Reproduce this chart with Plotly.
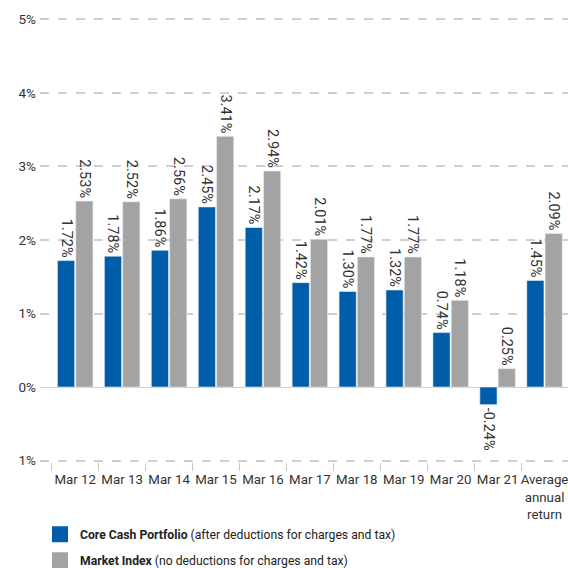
import plotly.graph_objects as go

categories = ["Mar 12", "Mar 13", "Mar 14", "Mar 15", "Mar 16", "Mar 17",
              "Mar 18", "Mar 19", "Mar 20", "Mar 21", "Average<br>annual<br>return"]
core_cash = [1.72, 1.78, 1.86, 2.45, 2.17, 1.42, 1.30, 1.32, 0.74, -0.24, 1.45]
market_index = [2.53, 2.52, 2.56, 3.41, 2.94, 2.01, 1.77, 1.77, 1.18, 0.25, 2.09]
tick_vals = [5, 4, 3, 2, 1, 0, -1]
tick_text = ["5%", "4%", "3%", "2%", "1%", "0%", "1%"]

BLUE = "#005DAA"
GREY = "#A3A3A3"
FONT = "Roboto"

fig = go.Figure()
fig.add_bar(x=categories, y=core_cash, marker=dict(color=BLUE, line=dict(color="#e8eef5", width=0.6)),
            text=[f"{v:.2f}%" for v in core_cash], textposition="outside", textangle=90,
            constraintext="none",
            textfont=dict(family=FONT, size=14.5, color="#333333"), cliponaxis=False,
            showlegend=False, hoverinfo="skip")
fig.add_bar(x=categories, y=market_index, marker=dict(color=GREY, line=dict(color="#eeeeee", width=0.6)),
            text=[f"{v:.2f}%" for v in market_index], textposition="outside", textangle=90,
            constraintext="none",
            textfont=dict(family=FONT, size=14.5, color="#333333"), cliponaxis=False,
            showlegend=False, hoverinfo="skip")

# legend entries
fig.add_scatter(x=[categories[0]], y=[None], mode="markers", legendgroup="core",
                marker=dict(symbol="square", size=18, color=BLUE),
                name="<b>Core Cash Portfolio</b> (after deductions for charges and tax)")
fig.add_scatter(x=[categories[0]], y=[None], mode="markers", legendgroup="market",
                marker=dict(symbol="square", size=18, color=GREY),
                name="<b>Market Index</b> (no deductions for charges and tax)")

fig.update_layout(
    width=568, height=568,
    margin=dict(l=40, r=0, t=18, b=106, autoexpand=False),
    paper_bgcolor="white", plot_bgcolor="white",
    barmode="group", bargap=0.22, bargroupgap=0.06,
    font=dict(family=FONT, size=14, color="#333333"),
    legend=dict(orientation="v", x=0.0, y=-0.13, xanchor="left", yanchor="top",
                font=dict(family=FONT, size=12.2, color="#222222"),
                traceorder="grouped", itemsizing="trace", tracegroupgap=7,
                bgcolor="rgba(0,0,0,0)"),
)
fig.update_xaxes(range=[-0.75, 10.5], tickson="boundaries", ticks="outside", ticklen=8,
                 tickcolor="#c8c8c8", tickwidth=1, showgrid=False, showline=False,
                 tickangle=0, automargin=False, ticklabelstandoff=8,
                 tickfont=dict(family=FONT, size=13.3, color="#333333"))
fig.update_yaxes(range=[-1.02, 5.02], tickvals=tick_vals, ticktext=tick_text,
                 showgrid=True, gridcolor="#cfcfcf", griddash="dash", gridwidth=1.5,
                 zeroline=True, zerolinecolor="#cfcfcf", zerolinewidth=1,
                 showline=False, ticks="", ticklabelstandoff=3, automargin=False,
                 tickfont=dict(family=FONT, size=13.5, color="#333333"))

fig.write_html("out.html", config={"displayModeBar": False},
               post_script="document.body.style.margin='0';")
